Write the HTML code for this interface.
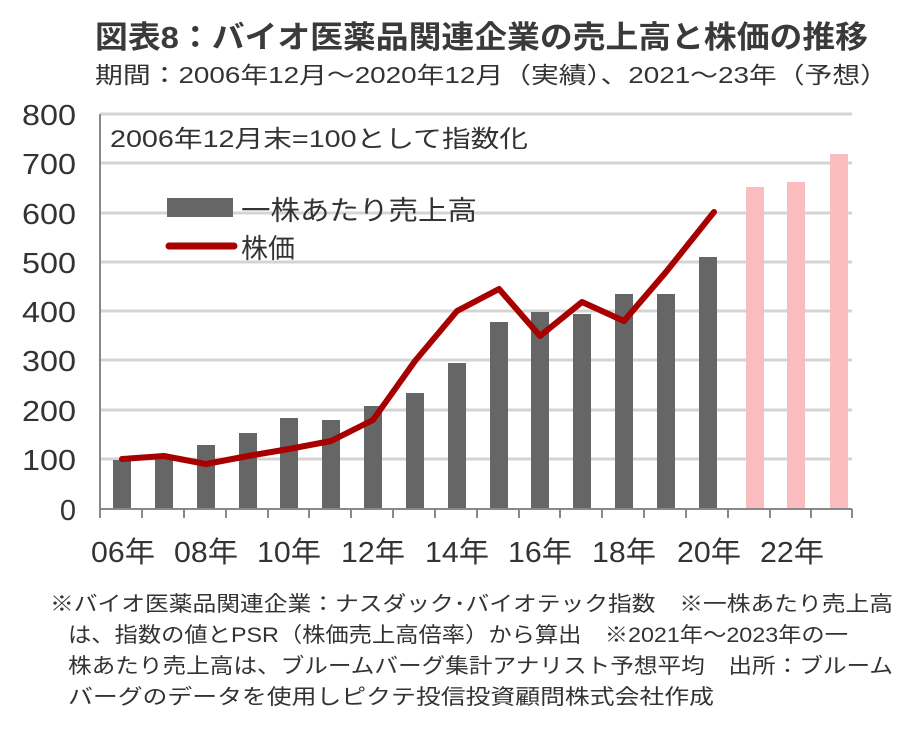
<!DOCTYPE html>
<html><head><meta charset="utf-8"><style>
html,body{margin:0;padding:0;background:#fff;}
svg text{font-family:"Liberation Sans","Noto Sans CJK JP",sans-serif;fill:#333;}
</style></head><body>
<svg width="918" height="724" viewBox="0 0 918 724" xmlns="http://www.w3.org/2000/svg">
<text x="95" y="48" font-size="31" font-weight="bold" textLength="773" lengthAdjust="spacingAndGlyphs" style="fill:#3a3a3a">図表8：バイオ医薬品関連企業の売上高と株価の推移</text>
<text x="95" y="83" font-size="23" textLength="793" lengthAdjust="spacingAndGlyphs">期間：2006年12月～2020年12月（実績）、2021～23年（予想）</text>
<g stroke="#d4d4d4" stroke-width="3">
<line x1="100" y1="114" x2="852" y2="114"/><line x1="100" y1="163" x2="852" y2="163"/>
<line x1="100" y1="213" x2="852" y2="213"/><line x1="100" y1="262" x2="852" y2="262"/>
<line x1="100" y1="311" x2="852" y2="311"/><line x1="100" y1="360" x2="852" y2="360"/>
<line x1="100" y1="410" x2="852" y2="410"/><line x1="100" y1="459" x2="852" y2="459"/>
</g>
<g font-size="29" text-anchor="end" fill="#333">
<text x="76" y="125" textLength="54" lengthAdjust="spacingAndGlyphs">800</text><text x="76" y="174" textLength="54" lengthAdjust="spacingAndGlyphs">700</text><text x="76" y="224" textLength="54" lengthAdjust="spacingAndGlyphs">600</text>
<text x="76" y="273" textLength="54" lengthAdjust="spacingAndGlyphs">500</text><text x="76" y="322" textLength="54" lengthAdjust="spacingAndGlyphs">400</text><text x="76" y="371" textLength="54" lengthAdjust="spacingAndGlyphs">300</text>
<text x="76" y="421" textLength="54" lengthAdjust="spacingAndGlyphs">200</text><text x="76" y="470" textLength="54" lengthAdjust="spacingAndGlyphs">100</text><text x="76" y="520">0</text>
</g>
<text x="110" y="147" font-size="24" textLength="418" lengthAdjust="spacingAndGlyphs">2006年12月末=100として指数化</text>
<g fill="#666">
<rect x="113" y="460" width="18" height="49"/><rect x="155" y="457" width="18" height="52"/>
<rect x="197" y="445" width="18" height="64"/><rect x="239" y="433" width="18" height="76"/>
<rect x="280" y="418" width="18" height="91"/><rect x="322" y="420" width="18" height="89"/>
<rect x="364" y="406" width="18" height="103"/><rect x="406" y="393" width="18" height="116"/>
<rect x="448" y="363" width="18" height="146"/><rect x="490" y="322" width="18" height="187"/>
<rect x="531" y="312" width="18" height="197"/><rect x="573" y="314" width="18" height="195"/>
<rect x="615" y="294" width="18" height="215"/><rect x="657" y="294" width="18" height="215"/>
<rect x="699" y="257" width="18" height="252"/>
</g>
<g fill="#fbbcbf">
<rect x="746" y="187" width="18" height="322"/><rect x="787" y="182" width="18" height="327"/>
<rect x="830" y="154" width="18" height="355"/>
</g>
<polyline fill="none" stroke="#a80000" stroke-width="6" stroke-linejoin="round" stroke-linecap="round"
points="122,459 164,456 206,464 248,456 289,449 331,441 373,420 415,361 457,311 499,289 540,336 582,302 624,321 666,272 714,212"/>
<g stroke="#888" stroke-width="2">
<line x1="100" y1="114" x2="100" y2="518"/><line x1="100" y1="509" x2="852" y2="509"/>
<line x1="142" y1="509" x2="142" y2="518"/><line x1="184" y1="509" x2="184" y2="518"/>
<line x1="226" y1="509" x2="226" y2="518"/><line x1="268" y1="509" x2="268" y2="518"/>
<line x1="309" y1="509" x2="309" y2="518"/><line x1="351" y1="509" x2="351" y2="518"/>
<line x1="393" y1="509" x2="393" y2="518"/><line x1="435" y1="509" x2="435" y2="518"/>
<line x1="477" y1="509" x2="477" y2="518"/><line x1="519" y1="509" x2="519" y2="518"/>
<line x1="560" y1="509" x2="560" y2="518"/><line x1="602" y1="509" x2="602" y2="518"/>
<line x1="644" y1="509" x2="644" y2="518"/><line x1="686" y1="509" x2="686" y2="518"/>
<line x1="728" y1="509" x2="728" y2="518"/><line x1="770" y1="509" x2="770" y2="518"/>
<line x1="811" y1="509" x2="811" y2="518"/><line x1="852" y1="509" x2="852" y2="518"/>
</g>
<g font-size="29" text-anchor="middle">
<text x="123" y="562" textLength="64" lengthAdjust="spacingAndGlyphs">06年</text><text x="206" y="562" textLength="64" lengthAdjust="spacingAndGlyphs">08年</text><text x="289" y="562" textLength="64" lengthAdjust="spacingAndGlyphs">10年</text>
<text x="373" y="562" textLength="64" lengthAdjust="spacingAndGlyphs">12年</text><text x="457" y="562" textLength="64" lengthAdjust="spacingAndGlyphs">14年</text><text x="540" y="562" textLength="64" lengthAdjust="spacingAndGlyphs">16年</text>
<text x="624" y="562" textLength="64" lengthAdjust="spacingAndGlyphs">18年</text><text x="709" y="562" textLength="64" lengthAdjust="spacingAndGlyphs">20年</text><text x="792" y="562" textLength="64" lengthAdjust="spacingAndGlyphs">22年</text>
</g>
<rect x="167" y="198" width="66" height="19" fill="#666"/>
<text x="241" y="220" font-size="27" textLength="236" lengthAdjust="spacingAndGlyphs">一株あたり売上高</text>
<line x1="169" y1="246" x2="234" y2="246" stroke="#a80000" stroke-width="7" stroke-linecap="round"/>
<text x="241" y="258" font-size="27">株価</text>
<g font-size="21">
<text x="50" y="611" textLength="843" lengthAdjust="spacingAndGlyphs">※バイオ医薬品関連企業：ナスダック･バイオテック指数　※一株あたり売上高</text>
<text x="68" y="642" textLength="780" lengthAdjust="spacingAndGlyphs">は、指数の値とPSR（株価売上高倍率）から算出　※2021年～2023年の一</text>
<text x="68" y="673" textLength="825" lengthAdjust="spacingAndGlyphs">株あたり売上高は、ブルームバーグ集計アナリスト予想平均　出所：ブルーム</text>
<text x="68" y="704" textLength="646" lengthAdjust="spacingAndGlyphs">バーグのデータを使用しピクテ投信投資顧問株式会社作成</text>
</g>
</svg>
</body></html>
